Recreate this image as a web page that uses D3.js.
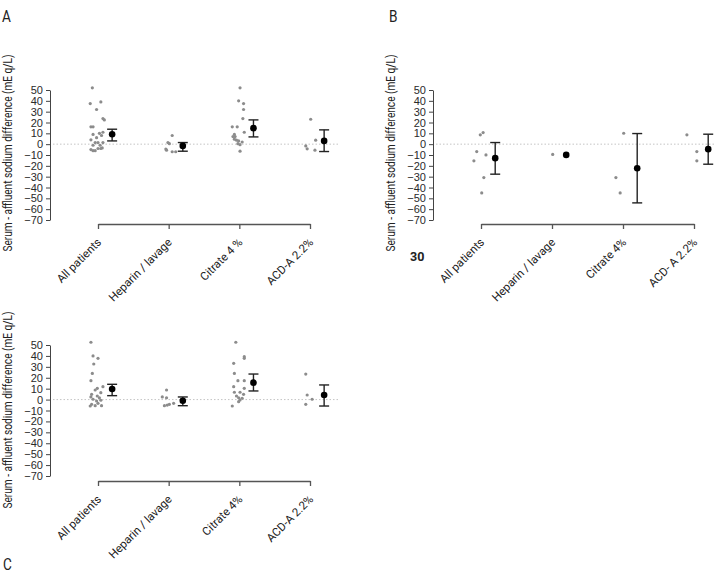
<!DOCTYPE html>
<html>
<head>
<meta charset="utf-8">
<script src="https://cdn.jsdelivr.net/npm/d3@7"></script>
<style>
  body { margin: 0; background: #fff; }
  svg { display: block; font-family: Roboto, "Liberation Sans", sans-serif; }
  .tick text { fill: #2a2a2a; }
</style>
</head>
<body>
<svg id="chart" width="714" height="582"></svg>
<script>
// y axis ticks (shared by all panels)
const yTicks = [50, 40, 30, 20, 10, 0, -10, -20, -30, -40, -50, -60, -70];
const yLabel = "Serum - affluent sodium difference (mE q/L)";

// category labels per panel
const categoriesA = ["All patients", "Heparin / lavage", "Citrate 4 %", "ACD-A 2.2%"];
const categoriesB = ["All patients", "Heparin / lavage", "Citrate 4%", "ACD- A 2.2%"];
const categoriesC = ["All patients", "Heparin / lavage", "Citrate 4%", "ACD-A 2.2%"];

// individual patients: [jitter (category units), value]
const pointsA = [
  [[-0.08, 52], [-0.11, 37.5], [0.04, 39], [-0.02, 32], [0.07, 23.6], [0.09, 22.4], [-0.10, 16], [-0.07, 16],
   [-0.07, 9], [0.02, 10], [0.07, 11], [0.05, 8], [-0.02, 6], [-0.10, 4], [-0.04, 1.5], [0.00, 1.5], [0.07, 1.5],
   [-0.07, -1], [0.03, -1], [0.04, -4], [0.00, -4], [-0.10, -5], [-0.07, -6], [-0.04, -6], [0.06, -3.5]],
  [[0.05, 8], [-0.01, 1.5], [0.01, 0.5], [-0.04, -4.5], [-0.03, -5.5], [0.05, -7], [0.10, -7]],
  [[0.01, 52], [-0.01, 40], [0.06, 37.5], [0.06, 32], [0.05, 23.6], [-0.10, 16], [-0.03, 16], [0.07, 11],
   [-0.07, 9], [-0.09, 7], [-0.06, 7], [-0.07, 4.6], [-0.04, 3.7], [-0.01, 3], [0.04, 2], [0.01, -0.5],
   [-0.02, 0.5], [0.01, -6.5]],
  [[0.01, 23], [-0.06, -1.6], [-0.04, -4.3], [0.08, 3.7], [0.07, -5.5]]
];
const pointsB = [
  [[-0.10, -15.4], [-0.06, -6.8], [-0.01, 8.6], [0.03, 10.7], [0.07, -9.9], [0.04, -30.8], [0.01, -45]],
  [[0.01, -9.5]],
  [[-0.10, -30.8], [-0.04, -45], [0.01, 10.1]],
  [[-0.10, 8.6], [0.04, -6.8], [0.04, -15.4]]
];
const pointsC = [
  [[-0.10, 52.5], [-0.07, 40], [0.00, 37.8], [-0.06, 32.6], [-0.08, 24], [-0.10, 17.3], [-0.01, 10.3],
   [-0.04, 8.8], [0.07, 11.8], [0.04, 6.3], [-0.09, 4.8], [-0.10, 2.4], [-0.01, 3.3], [0.02, 1.7],
   [-0.07, 0.3], [-0.02, -1.3], [0.04, -0.6], [-0.09, -4.3], [0.00, -3.4], [0.05, -5.6], [-0.04, -5.6], [-0.11, -5.9]],
  [[-0.03, 8.8], [-0.09, 2.4], [-0.03, 1.7], [-0.06, -5.6], [-0.02, -5], [0.01, -4.3], [0.07, -3.4]],
  [[-0.05, 52.5], [0.07, 39.3], [0.07, 37.8], [-0.08, 33.2], [-0.07, 24], [-0.02, 17.3], [0.07, 17.3],
   [-0.08, 11.8], [0.07, 10.3], [-0.07, 6.7], [0.01, 6.7], [0.06, 4.8], [-0.04, 3.3], [-0.01, 1.7],
   [0.04, 1.2], [0.01, -0.4], [-0.01, -1.9], [-0.10, -5.9]],
  [[-0.06, 23.4], [-0.04, 4.2], [0.03, 0.3], [-0.06, -4.3]]
];

// group means with lower / upper error limits
const meansA = [[9.2, 3, 13.8], [-1.6, -6.5, 1.5], [14.8, 6.7, 22.4], [3, -6.8, 13.2]];
const meansB = [[-12.9, -27.7, 1.5], [-9.9, -9.9, -9.9], [-22.2, -54.2, 9.8], [-4.6, -18.5, 9.2]];
const meansC = [[9.7, 3.6, 14], [-1, -5.6, 2.4], [15.5, 7.9, 23.4], [4.2, -5.9, 13.4]];

const svg = d3.select("#chart");

const panels = [
  { letter: "A", lx: 2, ly: 22, axisX: 50, top: 90, bottom: 220, xAxisY: 224, x0: 98, x1: 310, refEnd: 340,
    labelY: 153, cats: categoriesA, points: pointsA, means: meansA },
  { letter: "B", lx: 389, ly: 22, axisX: 433, top: 90, bottom: 220, xAxisY: 224, x0: 481, x1: 694, refEnd: 714,
    labelY: 153, cats: categoriesB, points: pointsB, means: meansB, extra: "30" },
  { letter: "C", lx: 3, ly: 570, axisX: 50, top: 345, bottom: 476, xAxisY: 481, x0: 98, x1: 310, refEnd: 340,
    labelY: 410, cats: categoriesC, points: pointsC, means: meansC }
];

const meanOffset = 0.2;

panels.forEach((p) => {
  const y = d3.scaleLinear().domain([-70, 50]).range([p.bottom, p.top]);
  const x = d3.scaleLinear().domain([0, 3]).range([p.x0, p.x1]);
  const g = svg.append("g");

  // panel letter
  svg.append("text")
    .attr("x", p.lx).attr("y", p.ly)
    .attr("font-size", 17).attr("fill", "#222")
    .attr("transform", `translate(${p.lx},0) scale(0.8,1) translate(${-p.lx},0)`)
    .text(p.letter);

  // zero reference line
  g.append("line")
    .attr("x1", p.axisX + 3).attr("x2", p.refEnd)
    .attr("y1", y(0)).attr("y2", y(0))
    .attr("stroke", "#c4c4c4").attr("stroke-width", 1)
    .attr("stroke-dasharray", "1.5,2");

  // y axis
  const yAxis = g.append("g")
    .attr("transform", `translate(${p.axisX},0)`)
    .call(d3.axisLeft(y).tickValues(yTicks).tickSize(4).tickSizeOuter(0).tickPadding(3));
  yAxis.selectAll("text").attr("font-size", 11).attr("font-family", null);
  yAxis.select(".domain").attr("stroke", "#444");
  yAxis.selectAll(".tick line").attr("stroke", "#444");

  // y label
  g.append("text")
    .attr("transform", `translate(${p.axisX - 38},${p.labelY}) rotate(-90)`)
    .attr("text-anchor", "middle")
    .attr("font-size", 12.5).attr("fill", "#222")
    .attr("textLength", 197).attr("lengthAdjust", "spacingAndGlyphs")
    .text(yLabel);

  // x axis
  const xAxis = g.append("g")
    .attr("transform", `translate(0,${p.xAxisY})`)
    .call(d3.axisBottom(x).tickValues([0, 1, 2, 3]).tickSize(5).tickSizeOuter(0).tickFormat(""));
  xAxis.select(".domain").attr("stroke", "#555").attr("stroke-width", 1.3);
  xAxis.selectAll(".tick line").attr("stroke", "#555").attr("stroke-width", 1.3);

  // category labels
  g.selectAll(".cat")
    .data(p.cats)
    .join("text")
    .attr("class", "cat")
    .attr("transform", (d, i) => `translate(${x(i) + 4},${p.xAxisY + 19}) rotate(-45)`)
    .attr("text-anchor", "end")
    .attr("font-size", 11.5).attr("fill", "#222")
    .text((d) => d);

  // individual points
  p.points.forEach((grp, i) => {
    g.selectAll(null)
      .data(grp)
      .join("circle")
      .attr("cx", (d) => x(i + d[0]))
      .attr("cy", (d) => y(d[1]))
      .attr("r", 1.6)
      .attr("fill", "#8c8c8c");
  });

  // mean with error bars
  p.means.forEach((m, i) => {
    const cx = x(i + meanOffset);
    if (m[1] !== m[2]) {
      g.append("line").attr("x1", cx).attr("x2", cx).attr("y1", y(m[1])).attr("y2", y(m[2]))
        .attr("stroke", "#222").attr("stroke-width", 1.4);
      [m[1], m[2]].forEach((v) => {
        g.append("line").attr("x1", cx - 5).attr("x2", cx + 5).attr("y1", y(v)).attr("y2", y(v))
          .attr("stroke", "#222").attr("stroke-width", 1.4);
      });
    }
    g.append("circle").attr("cx", cx).attr("cy", y(m[0])).attr("r", 3.3).attr("fill", "#000");
  });

  if (p.extra) {
    svg.append("text")
      .attr("x", p.axisX - 23).attr("y", 261)
      .attr("font-size", 12.5).attr("font-weight", "bold").attr("fill", "#222")
      .text(p.extra);
  }
});
</script>
</body>
</html>
